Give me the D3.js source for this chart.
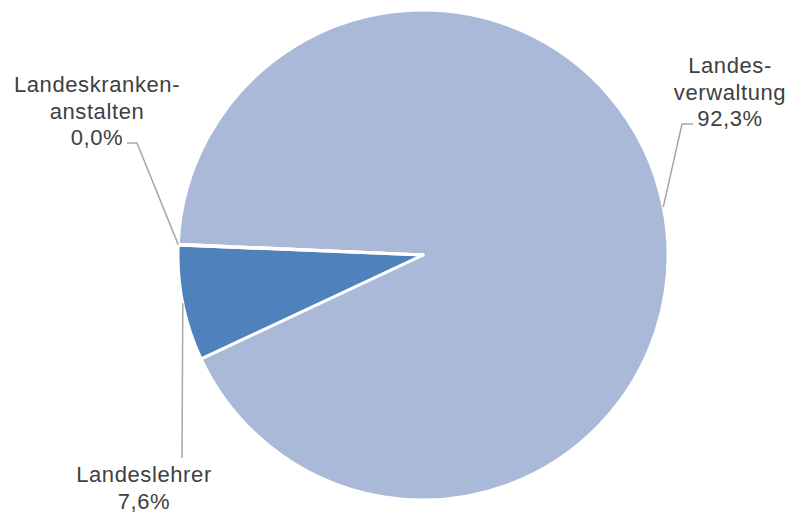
<!DOCTYPE html>
<html>
<head>
<meta charset="utf-8">
<script src="https://cdn.jsdelivr.net/npm/d3@7/dist/d3.min.js"></script>
<style>
  html, body { margin: 0; padding: 0; background: #ffffff; }
  svg { display: block; }
  text { font-family: "Liberation Sans", Arial, sans-serif; fill: #404040; }
</style>
</head>
<body>
<svg id="chart" width="786" height="512"></svg>
<script>
// Share of staff by area (percent)
const categories = ["Landesverwaltung", "Landeslehrer", "Landeskrankenanstalten"];
const shares = [92.34, 7.62, 0.04];
const labelLines = [["Landes-", "verwaltung"], ["Landeslehrer"], ["Landeskranken-", "anstalten"]];
const sliceColors = ["#AAB9D7", "#4F81BD", "#AAB9D7"];

// Label placement: text anchor (centre of the text block, first baseline) and leader elbow
const labelLayout = [
  { x: 730, y: 73, elbow: [[693, 124], [682, 124]] },
  { x: 144, y: 482, elbow: [[182, 458]] },
  { x: 97, y: 92, elbow: [[127, 143], [137, 143]] }
];

const width = 786, height = 512;
const cx = 423, cy = 255, radius = 245;
const lineHeight = 26.5;

const svg = d3.select("#chart");
const g = svg.append("g").attr("transform", `translate(${cx},${cy})`);

const startDeg = 272.5;
const pie = d3.pie()
  .sort(null)
  .value(d => d)
  .startAngle(startDeg * Math.PI / 180)
  .endAngle((startDeg + 360) * Math.PI / 180);

const arcs = pie(shares);
const arc = d3.arc().innerRadius(0).outerRadius(radius);
const rimArc = d3.arc().innerRadius(radius).outerRadius(radius);

g.selectAll("path.slice")
  .data(arcs)
  .join("path")
  .attr("class", "slice")
  .attr("d", arc)
  .attr("fill", (d, i) => sliceColors[i])
  .attr("stroke", "#ffffff")
  .attr("stroke-width", 3)
  .attr("stroke-linejoin", "round");

const fmt = v => d3.format(".1f")(v).replace(".", ",") + "%";

// Leader lines from the slice rim to the labels
arcs.forEach((d, i) => {
  const [rx, ry] = rimArc.centroid(d);
  const pts = [[rx + cx, ry + cy]].concat(labelLayout[i].elbow.slice().reverse());
  svg.append("path")
    .attr("d", d3.line()(pts))
    .attr("fill", "none")
    .attr("stroke", "#A6A6A6")
    .attr("stroke-width", 1.5);
});

// Labels: category name lines followed by the share
arcs.forEach((d, i) => {
  const lines = labelLines[i].concat([fmt(shares[i])]);
  const t = svg.append("text")
    .attr("text-anchor", "middle")
    .attr("font-size", 22)
    .attr("letter-spacing", 0.6);
  lines.forEach((s, k) => {
    t.append("tspan")
      .attr("x", labelLayout[i].x)
      .attr("y", labelLayout[i].y + k * lineHeight)
      .text(s);
  });
});
</script>
</body>
</html>
